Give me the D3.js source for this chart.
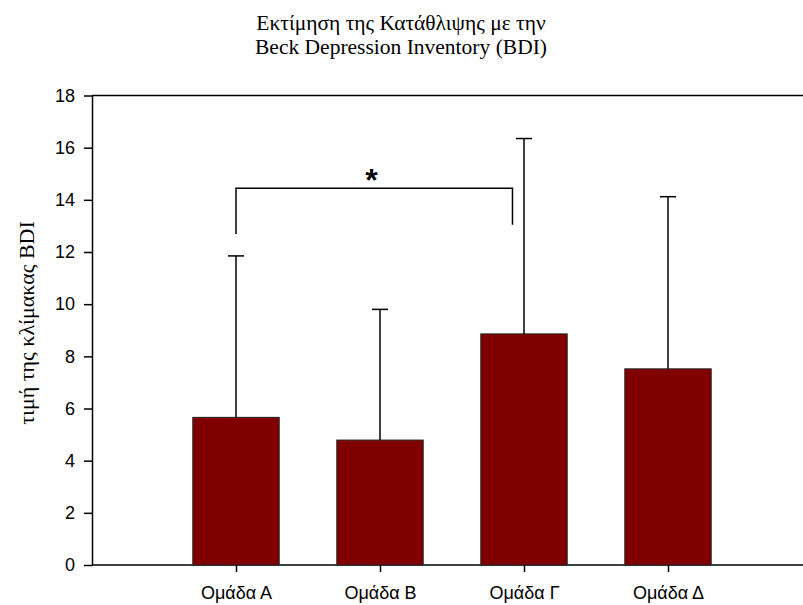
<!DOCTYPE html>
<html lang="el">
<head>
  <meta charset="utf-8">
  <title>BDI</title>
  <script src="https://d3js.org/d3.v7.min.js"></script>
  <style>
    html, body { margin: 0; padding: 0; background: #fff; overflow: hidden; }
    svg { display: block; }
    .title { font-family: "Liberation Serif", "Times New Roman", serif; font-size: 21.5px; }
    .ylabel { font-family: "Liberation Serif", "Times New Roman", serif; font-size: 22px; }
    .axis text { font-family: "Liberation Sans", Arial, sans-serif; font-size: 18px; fill: #000; }
    .axis path, .axis line { stroke: #000; stroke-width: 1.5px; }
    .bar { fill: #800000; stroke: #222; stroke-width: 1px; }
    .err { stroke: #000; stroke-width: 1.5px; fill: none; }
    .bracket { stroke: #000; stroke-width: 1.5px; fill: none; }
  </style>
</head>
<body>
<script>
// group names, means and the upper end of each error bar (mean + SD)
var groups = ["Ομάδα Α", "Ομάδα Β", "Ομάδα Γ", "Ομάδα Δ"];
var means = [5.66, 4.79, 8.86, 7.52];
var upper = [11.85, 9.80, 16.35, 14.12];
var yTicks = [0, 2, 4, 6, 8, 10, 12, 14, 16, 18];

// significance bracket between A and Γ
var bracketX = [1, 2.92];
var bracketY = [12.69, 14.44, 13.04]; // left leg end, top, right leg end
var starPos = [1.94, 15.04];

var titleLines = ["Εκτίμηση της Κατάθλιψης με την", "Beck Depression Inventory (BDI)"];
var yTitle = "τιμή της κλίμακας BDI";

var W = 803, H = 605;
var margin = {left: 92, top: 95.5, bottom: 565};

var svg = d3.select("body").append("svg")
  .attr("width", W)
  .attr("height", H);

// the frame runs past the right edge of the picture (x = 5 is off-screen)
var x = d3.scaleLinear().domain([0, 5]).range([margin.left, margin.left + 5 * 144]);
var y = d3.scaleLinear().domain([0, 18]).range([margin.bottom, margin.top]);
var barW = 0.6;

// title
svg.append("text")
  .attr("class", "title")
  .attr("text-anchor", "middle")
  .selectAll("tspan")
  .data(titleLines)
  .enter().append("tspan")
  .attr("x", 401)
  .attr("y", function(d, i) { return 29.5 + i * 24; })
  .text(function(d) { return d; });

// top frame line and baseline, cut at the picture edge
[y(18), y(0)].forEach(function(yy) {
  svg.append("line")
    .attr("x1", x(0)).attr("x2", W)
    .attr("y1", yy).attr("y2", yy)
    .attr("stroke", "#000").attr("stroke-width", 1.5);
});

// bars
svg.selectAll(".bar")
  .data(means)
  .enter().append("rect")
  .attr("class", "bar")
  .attr("x", function(d, i) { return x(i + 1 - barW / 2); })
  .attr("width", x(barW) - x(0))
  .attr("y", function(d) { return y(d); })
  .attr("height", function(d) { return y(0) - y(d); });

// error bars (upper only)
var eb = svg.selectAll(".eb")
  .data(upper)
  .enter().append("g");
eb.append("line")
  .attr("class", "err")
  .attr("x1", function(d, i) { return x(i + 1); })
  .attr("x2", function(d, i) { return x(i + 1); })
  .attr("y1", function(d, i) { return y(means[i]); })
  .attr("y2", function(d) { return y(d); });
eb.append("line")
  .attr("class", "err")
  .attr("x1", function(d, i) { return x(i + 1) - 8; })
  .attr("x2", function(d, i) { return x(i + 1) + 8; })
  .attr("y1", function(d) { return y(d); })
  .attr("y2", function(d) { return y(d); });

// significance bracket
svg.append("path")
  .attr("class", "bracket")
  .attr("d", d3.line()([
    [x(bracketX[0]), y(bracketY[0])],
    [x(bracketX[0]), y(bracketY[1])],
    [x(bracketX[1]), y(bracketY[1])],
    [x(bracketX[1]), y(bracketY[2])]
  ]));
svg.append("text")
  .attr("x", x(starPos[0]))
  .attr("y", y(starPos[1]))
  .attr("text-anchor", "middle")
  .attr("dy", "0.58em")
  .style("font-family", "Liberation Sans, Arial, sans-serif")
  .style("font-size", "32px")
  .style("font-weight", "bold")
  .text("*");

// axes
svg.append("g")
  .attr("class", "axis")
  .attr("transform", "translate(" + margin.left + ",0)")
  .call(d3.axisLeft(y).tickValues(yTicks).tickSize(8).tickSizeOuter(0).tickPadding(9));

var xAxis = svg.append("g")
  .attr("class", "axis")
  .attr("transform", "translate(0," + y(0) + ")")
  .call(d3.axisBottom(x).tickValues([1, 2, 3, 4]).tickSize(7).tickSizeOuter(0).tickPadding(14)
    .tickFormat(function(d) { return groups[d - 1]; }));
xAxis.select(".domain").remove();

// y axis title
svg.append("text")
  .attr("class", "ylabel")
  .attr("text-anchor", "middle")
  .attr("transform", "translate(34,323) rotate(-90)")
  .text(yTitle);
</script>
</body>
</html>
